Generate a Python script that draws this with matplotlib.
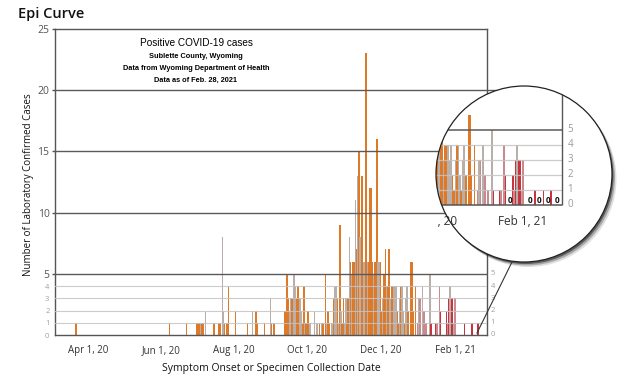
import matplotlib
matplotlib.use("Agg")
import matplotlib.pyplot as plt
import matplotlib.dates as mdates
import numpy as np
import pandas as pd
from matplotlib.lines import Line2D
from matplotlib.patches import Circle

# Daily counts (Sublette County, WY)
onset_dates = [
    "2020-03-22", "2020-06-08", "2020-06-22", "2020-07-01", "2020-07-02", "2020-07-03",
    "2020-07-04", "2020-07-05", "2020-07-06", "2020-07-08", "2020-07-15", "2020-07-19",
    "2020-07-20", "2020-07-22", "2020-07-23", "2020-07-24", "2020-07-26", "2020-07-27",
    "2020-08-02", "2020-08-12", "2020-08-16", "2020-08-19", "2020-08-20", "2020-08-26",
    "2020-08-31", "2020-09-01", "2020-09-03", "2020-09-12", "2020-09-13", "2020-09-14",
    "2020-09-15", "2020-09-16", "2020-09-17", "2020-09-18", "2020-09-19", "2020-09-20",
    "2020-09-21", "2020-09-22", "2020-09-23", "2020-09-24", "2020-09-25", "2020-09-26",
    "2020-09-27", "2020-09-28", "2020-09-29", "2020-09-30", "2020-10-01", "2020-10-02",
    "2020-10-03", "2020-10-07", "2020-10-09", "2020-10-11", "2020-10-13", "2020-10-14",
    "2020-10-16", "2020-10-17", "2020-10-18", "2020-10-19", "2020-10-21", "2020-10-22",
    "2020-10-23", "2020-10-24", "2020-10-25", "2020-10-26", "2020-10-27", "2020-10-28",
    "2020-10-29", "2020-10-30", "2020-10-31", "2020-11-01", "2020-11-02", "2020-11-03",
    "2020-11-04", "2020-11-05", "2020-11-06", "2020-11-07", "2020-11-08", "2020-11-09",
    "2020-11-10", "2020-11-11", "2020-11-12", "2020-11-13", "2020-11-14", "2020-11-15",
    "2020-11-16", "2020-11-17", "2020-11-18", "2020-11-19", "2020-11-20", "2020-11-21",
    "2020-11-22", "2020-11-23", "2020-11-24", "2020-11-25", "2020-11-26", "2020-11-27",
    "2020-11-28", "2020-11-29", "2020-11-30", "2020-12-01", "2020-12-02", "2020-12-03",
    "2020-12-04", "2020-12-05", "2020-12-06", "2020-12-07", "2020-12-08", "2020-12-09",
    "2020-12-10", "2020-12-11", "2020-12-12", "2020-12-13", "2020-12-14", "2020-12-15",
    "2020-12-16", "2020-12-17", "2020-12-18", "2020-12-19", "2020-12-20", "2020-12-21",
    "2020-12-22", "2020-12-23", "2020-12-24", "2020-12-26", "2020-12-27", "2020-12-28",
    "2020-12-30", "2021-01-01", "2021-01-02", "2021-01-03", "2021-01-05", "2021-01-06",
    "2021-01-08", "2021-01-11", "2021-01-12", "2021-01-16", "2021-01-17", "2021-01-19",
    "2021-01-20", "2021-01-25", "2021-01-26", "2021-01-27", "2021-01-28", "2021-01-29",
    "2021-01-30", "2021-01-31", "2021-02-01", "2021-02-09", "2021-02-15", "2021-02-20",
]
case_counts = [
    1, 1, 1, 1, 1, 1,
    1, 1, 1, 2, 1, 1,
    1, 8, 2, 1, 1, 4,
    2, 1, 2, 2, 1, 1,
    3, 1, 1, 2, 2, 5,
    3, 2, 3, 3, 2, 5,
    4, 3, 4, 2, 3, 2,
    1, 4, 1, 1, 2, 2,
    1, 2, 1, 1, 1, 1,
    5, 1, 2, 1, 1, 1,
    3, 4, 4, 3, 1, 9,
    2, 1, 3, 1, 3, 1,
    3, 8, 6, 5, 6, 6,
    11, 7, 13, 15, 8, 13,
    13, 6, 6, 23, 6, 6,
    12, 12, 6, 5, 6, 6,
    16, 6, 6, 6, 2, 3,
    5, 7, 4, 4, 7, 3,
    4, 4, 4, 3, 4, 2,
    1, 3, 4, 4, 2, 1,
    3, 4, 2, 6, 6, 2,
    4, 1, 3, 3, 4, 2,
    1, 5, 1, 1, 1, 4,
    2, 2, 1, 3, 4, 3,
    3, 1, 3, 1, 1, 1,
]
# o = orange, g = grey, p = pink, r = red
bar_shade = list(
    "oooooo" "googoo" "oggooo" "oogooo" "gooooo"
    "oggoog" "gooogg" "oogooo" "gggogo" "ogoogg"
    "oggogo" "googgo" "ogogoo" "gogogo" "oggogo"
    "ooogoo" "oggoog" "oogoog" "oogggo" "ogoggo"
    "ggoooo" "opgpgp" "pgrrpp" "rrprgr" "rgprrr"
)

zero_label_dates = ["2021-01-23", "2021-02-06", "2021-02-12", "2021-02-18", "2021-02-24"]

x_tick_dates = ["2020-04-01", "2020-06-01", "2020-08-01", "2020-10-01", "2020-12-01", "2021-02-01"]
x_tick_labels = ["Apr 1, 20", "Jun 1, 20", "Aug 1, 20", "Oct 1, 20", "Dec 1, 20", "Feb 1, 21"]
y_major = [5, 10, 15, 20, 25]
y_minor = [0, 1, 2, 3, 4]
lens_y_labels = [0, 1, 2, 3, 4, 5]

SHADES = {"o": "#DD7A2A", "g": "#B8AFAB", "p": "#C98A8F", "r": "#C8343D"}
DARK_GRID = "#5a5a5a"
LIGHT_GRID = "#c4c4c4"

plt.rcParams["font.family"] = ["Open Sans", "DejaVu Sans"]

W, H = 625, 390
fig = plt.figure(figsize=(W / 100, H / 100), dpi=100)
fig.patch.set_facecolor("white")


def fx(px):
    return px / W


def fy(py):
    return 1 - py / H


x = mdates.date2num(pd.to_datetime(onset_dates))
counts = np.array(case_counts)
colors = [SHADES[s] for s in bar_shade]
feb1 = mdates.date2num(pd.Timestamp("2021-02-01"))
apr1 = mdates.date2num(pd.Timestamp("2020-04-01"))
x_end = feb1 + 26.7

# ---------------- main chart ----------------
ax = fig.add_axes([fx(55), fy(335), (487 - 55) / W, (335 - 29) / H])
ax.bar(x, counts, width=1.3, color=colors, linewidth=0, zorder=2)
ax.set_xlim(apr1 - 27.5, x_end)
ax.set_ylim(0, 25)

for v in y_minor[1:]:
    ax.axhline(v, color=LIGHT_GRID, lw=0.8, alpha=0.85, zorder=3)
ax.axhline(5, color=DARK_GRID, lw=1.0, zorder=3)
for v in (10, 15, 20):
    ax.axhline(v, xmax=1.02, color=DARK_GRID, lw=1.0, zorder=3, clip_on=False)

for side in ("top", "left", "right", "bottom"):
    ax.spines[side].set_color("#555555")
    ax.spines[side].set_linewidth(1.0)

ax.set_yticks(y_major, [str(v) for v in y_major])
ax.tick_params(axis="y", which="major", length=2.5, width=1, color="#555555",
               labelsize=7.5, labelcolor="#555555", pad=1.5)
ax.set_yticks(y_minor, [str(v) for v in y_minor], minor=True)
ax.tick_params(axis="y", which="minor", length=0, labelsize=5.5,
               labelcolor="#a0a0a0", pad=4)
for v in lens_y_labels:
    ax.text(1.008, v, str(v), transform=ax.get_yaxis_transform(), fontsize=5.5,
            color="#a0a0a0", ha="left", va="center")

ax.set_xticks(mdates.date2num(pd.to_datetime(x_tick_dates)), x_tick_labels)
ax.tick_params(axis="x", length=0, pad=7, labelsize=7, labelcolor="#333333")

fig.text(fx(18), fy(14), "Epi Curve", fontsize=10.5, weight="semibold",
         color="#111111", va="center", ha="left")
fig.text(fx(29), fy(185), "Number of Laboratory Confirmed Cases", rotation=90,
         fontsize=7, color="#111111", ha="center", va="center")
fig.text(fx(271), fy(368), "Symptom Onset or Specimen Collection Date",
         fontsize=7.5, color="#111111", ha="center", va="center")

box_font = ["Liberation Sans", "DejaVu Sans"]
fig.text(fx(196), fy(43), "Positive COVID-19 cases", fontsize=7.2, family=box_font,
         ha="center", va="center")
for py, line in [(56, "Sublette County, Wyoming"),
                 (68, "Data from Wyoming Department of Health"),
                 (80, "Data as of Feb. 28, 2021")]:
    fig.text(fx(196), fy(py), line, fontsize=5.3, family=box_font, weight="bold",
             ha="center", va="center")

# ---------------- magnifier lens ----------------
cx, cy, r = 524, 174, 88
ax_in = fig.add_axes([fx(cx - r), fy(cy + r), 2 * r / W, 2 * r / H])
ax_in.set_xlim(feb1 - 59.2, feb1 + 60.5)
ax_in.set_ylim(-3.8, 7.93)
ax_in.axis("off")

for dx, dy, a in [(1.5, -2.0, 0.45), (3.0, -3.5, 0.25), (4.5, -5.0, 0.12)]:
    ax_in.add_patch(Circle((0.5 + dx / (2 * r), 0.5 + dy / (2 * r)), 0.5,
                           transform=ax_in.transAxes, facecolor="black",
                           edgecolor="none", alpha=a, clip_on=False, zorder=0))
lens = Circle((0.5, 0.5), 0.5, transform=ax_in.transAxes, facecolor="white",
              edgecolor="none", clip_on=False, zorder=1)
ax_in.add_patch(lens)

in_left = feb1 - 59.2
mask = x > in_left - 1
bars = ax_in.bar(x[mask], counts[mask], width=1.15,
                 color=[c for c, m in zip(colors, mask) if m], linewidth=0, zorder=2)
for b in bars:
    b.set_clip_path(lens)

artists = [
    ax_in.hlines([1, 2, 3, 4], in_left, x_end, color=LIGHT_GRID, lw=0.9, alpha=0.85, zorder=3),
    ax_in.hlines([5], in_left, x_end, color=DARK_GRID, lw=1.1, zorder=3),
    ax_in.hlines([0], in_left, x_end, color="#555555", lw=1.1, zorder=3),
    ax_in.vlines([x_end], 0, 7.93, color="#555555", lw=1.0, zorder=3),
]
for v in lens_y_labels:
    artists.append(ax_in.text(x_end + 3.4, v, str(v), fontsize=7, color="#9a9a9a",
                              ha="left", va="center", clip_on=True))
for d, lab in zip(mdates.date2num(pd.to_datetime(x_tick_dates))[-2:], x_tick_labels[-2:]):
    artists.append(ax_in.text(d, -1.1, lab, fontsize=8.5, color="#333333",
                              ha="center", va="center", clip_on=True))
for d in mdates.date2num(pd.to_datetime(zero_label_dates)):
    artists.append(ax_in.text(d, 0.33, "0", fontsize=6, weight="bold", color="#111111",
                              ha="center", va="center", clip_on=True, zorder=4))
for art in artists:
    art.set_clip_path(lens)

ax_in.add_patch(Circle((0.5, 0.5), 0.5, transform=ax_in.transAxes, facecolor="none",
                       edgecolor="#222222", lw=0.9, clip_on=False, zorder=10))

# handle joining the lens to the end of the curve
fig.add_artist(Line2D([fx(477), fx(512)], [fy(333), fy(262)], color="#333333", lw=0.8))

fig.savefig("out.png", dpi=100)
